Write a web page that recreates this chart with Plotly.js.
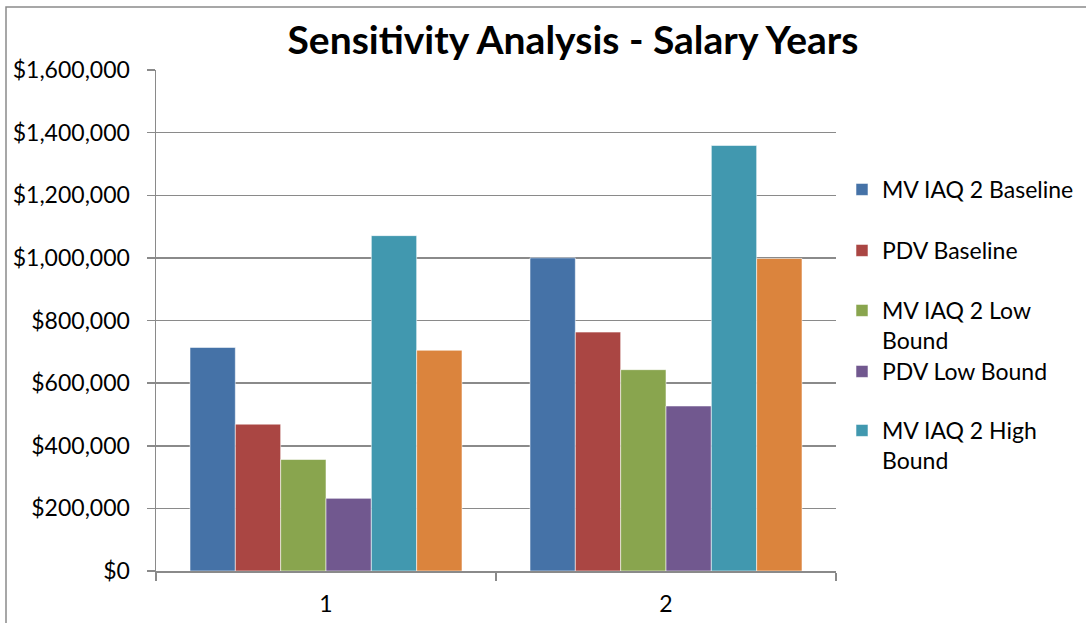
<!DOCTYPE html>
<html>
<head>
<meta charset="utf-8">
<script src="https://cdn.plot.ly/plotly-3.0.1.min.js"></script>
<style>
  html, body { margin: 0; padding: 0; background: #fff; }
  #chart { width: 1086px; height: 623px; }
</style>
</head>
<body>
<div id="chart"></div>
<script>
const categories = ["1", "2"];
const seriesNames = [
  "MV IAQ 2 Baseline",
  "PDV Baseline",
  "MV IAQ 2 Low<br>Bound",
  "PDV Low Bound",
  "MV IAQ 2 High<br>Bound",
  "PDV High Bound"
];
const mvBaseline = [714000, 1000000];
const pdvBaseline = [469000, 763000];
const mvLow = [356000, 643000];
const pdvLow = [232000, 527000];
const mvHigh = [1071000, 1359000];
const pdvHigh = [705000, 998000];
const colors = ["#4572A7", "#AA4643", "#89A54E", "#71588F", "#4198AF", "#DB843D"];
const yTicks = [0, 200000, 400000, 600000, 800000, 1000000, 1200000, 1400000, 1600000];

const values = [mvBaseline, pdvBaseline, mvLow, pdvLow, mvHigh, pdvHigh];
const legendIds = ["legend", "legend2", "legend3", "legend4", "legend5", null];

const W = 1086, H = 623;
const fontFam = "Lato, 'Open Sans', sans-serif";

const traces = values.map((v, i) => ({
  type: "bar",
  x: categories,
  y: v,
  name: seriesNames[i],
  marker: { color: colors[i], line: { color: "rgba(255,255,255,0.55)", width: 1 } },
  showlegend: legendIds[i] !== null,
  legend: legendIds[i] || "legend",
  hoverinfo: "y+name"
}));

function leg(px, pyTop, valign) {
  return {
    x: px / W, y: 1 - pyTop / H,
    xref: "container", yref: "container",
    xanchor: "left", yanchor: "top",
    bgcolor: "rgba(0,0,0,0)",
    font: { family: fontFam, size: 23, color: "#000" },
    itemwidth: 30,
    valign: valign || "middle",
    tracegroupgap: 0
  };
}

const L = 156, R = 836, T = 70, B = 571;
const px2paperX = p => (p - L) / (R - L);
const px2paperY = p => (B - p) / (B - T);

const layout = {
  width: W, height: H,
  margin: { l: L, r: W - R, t: T, b: H - B, pad: 0 },
  paper_bgcolor: "#fff",
  plot_bgcolor: "#fff",
  font: { family: fontFam, size: 23, color: "#000" },
  title: {
    text: "<b>Sensitivity Analysis - Salary Years</b>",
    font: { family: fontFam, size: 39, color: "#000" },
    x: 573 / W, xanchor: "center",
    y: 1 - 40 / H, yanchor: "middle",
    xref: "container", yref: "container"
  },
  barmode: "group",
  bargap: 0.2,
  bargroupgap: 0,
  xaxis: {
    type: "category",
    showline: true, linecolor: "#8a8a8a", linewidth: 1.5,
    ticks: "outside", tickson: "boundaries", ticklen: 8, tickcolor: "#8a8a8a", tickwidth: 1.5,
    showgrid: false,
    tickfont: { family: fontFam, size: 23, color: "#000" },
    ticklabelstandoff: 12
  },
  yaxis: {
    range: [0, 1600000],
    tickvals: yTicks,
    tickformat: "$,.0f",
    showline: true, linecolor: "#8a8a8a", linewidth: 1.5,
    ticks: "outside", ticklen: 8, tickcolor: "#8a8a8a", tickwidth: 1.5,
    showgrid: true, gridcolor: "#8a8a8a", gridwidth: 1.5,
    zeroline: false,
    tickfont: { family: fontFam, size: 23, color: "#000" },
    ticklabelstandoff: 12
  },
  legend: leg(842, 168),
  legend2: leg(842, 229),
  legend3: leg(842, 289, "top"),
  legend4: leg(842, 350),
  legend5: leg(842, 409, "top"),
  shapes: [{
    type: "rect", xref: "paper", yref: "paper", layer: "above",
    x0: px2paperX(6), x1: px2paperX(1200),
    y0: px2paperY(700), y1: px2paperY(7),
    line: { color: "#8a8a8a", width: 1.5 },
    fillcolor: "rgba(0,0,0,0)"
  }]
};

Plotly.newPlot("chart", traces, layout, { displayModeBar: false, staticPlot: true });
</script>
</body>
</html>
